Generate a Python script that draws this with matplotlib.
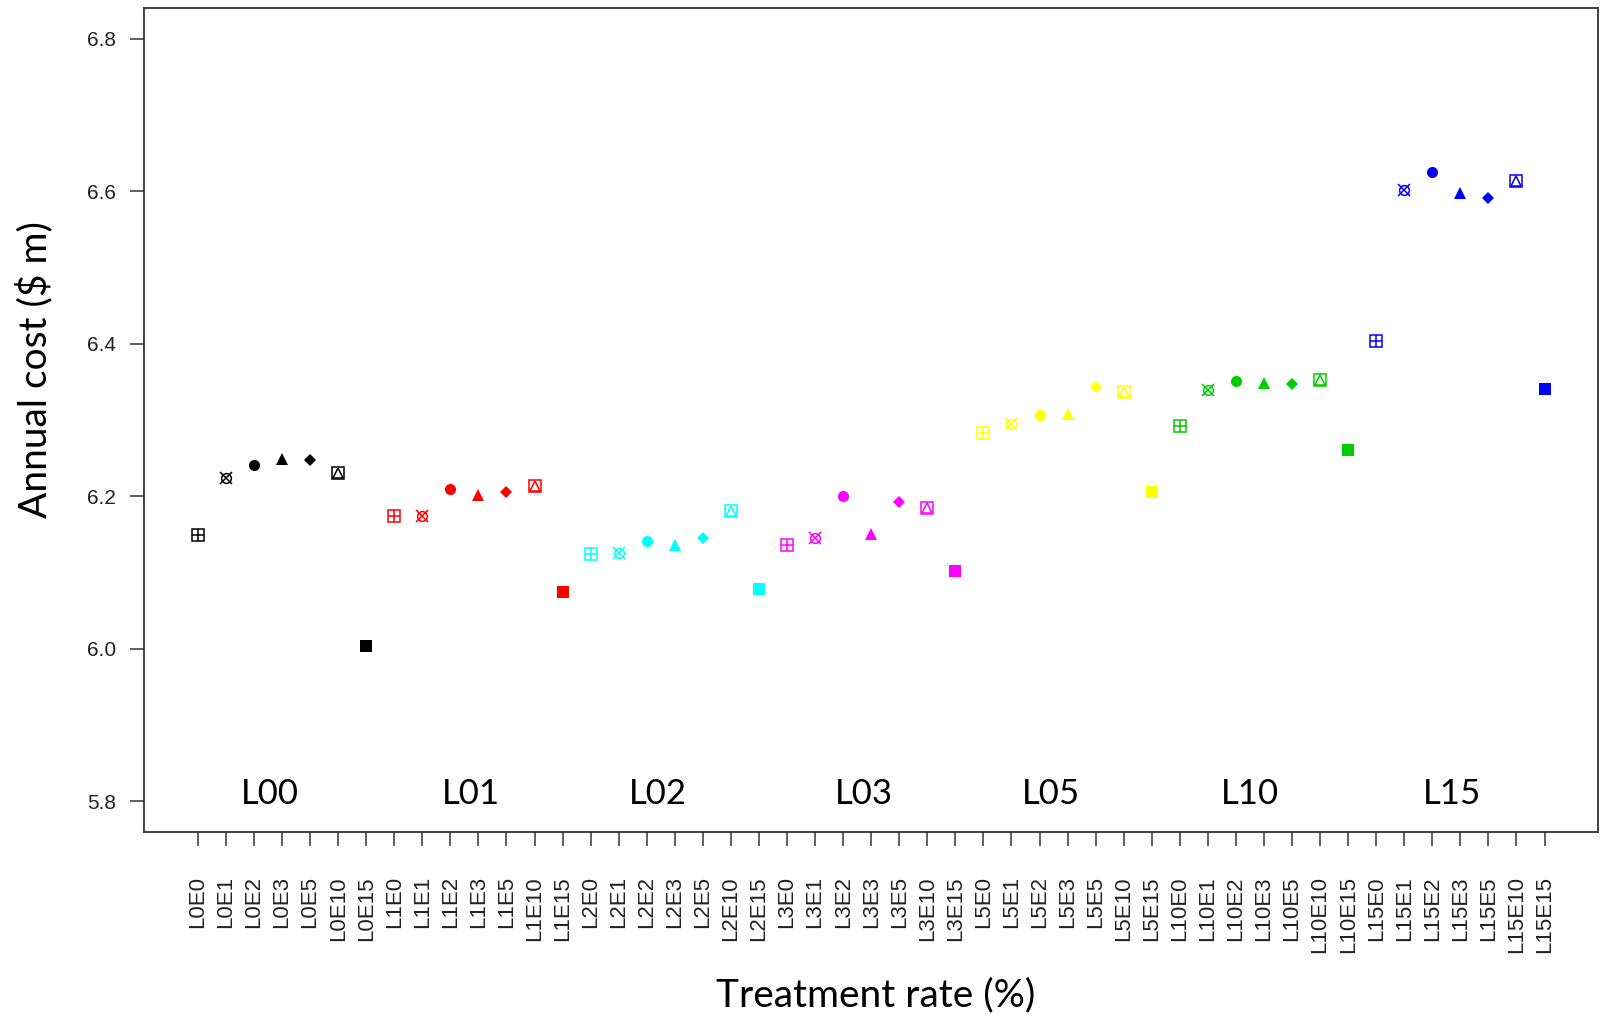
import matplotlib
matplotlib.use("Agg")
import matplotlib.pyplot as plt

# scenario groups (L) and treatment levels (E)
groups = ["L0", "L1", "L2", "L3", "L5", "L10", "L15"]
group_names = ["L00", "L01", "L02", "L03", "L05", "L10", "L15"]
levels = ["E0", "E1", "E2", "E3", "E5", "E10", "E15"]
group_colors = ["black", "red", "cyan", "magenta", "yellow", "#00CD00", "blue"]

# annual cost ($ m), one list per group, ordered by levels
cost_L0 = [6.149, 6.224, 6.241, 6.249, 6.247, 6.230, 6.004]
cost_L1 = [6.174, 6.174, 6.210, 6.201, 6.205, 6.214, 6.075]
cost_L2 = [6.124, 6.125, 6.141, 6.136, 6.145, 6.181, 6.078]
cost_L3 = [6.136, 6.145, 6.200, 6.150, 6.192, 6.184, 6.102]
cost_L5 = [6.283, 6.295, 6.307, 6.308, 6.343, 6.336, 6.206]
cost_L10 = [6.292, 6.339, 6.351, 6.348, 6.347, 6.352, 6.261]
cost_L15 = [6.404, 6.602, 6.625, 6.597, 6.591, 6.614, 6.340]
costs = [cost_L0, cost_L1, cost_L2, cost_L3, cost_L5, cost_L10, cost_L15]

# group label positions (in index units along x)
group_label_x = [3.58, 10.75, 17.4, 24.75, 31.4, 38.5, 45.7]

fig = plt.figure(figsize=(16, 10.23), dpi=100)
ax = fig.add_axes([0.09, 0.187, 0.909, 0.805])

LW = 1.1


def draw_marker(x, y, level, c):
    if level == "E0":  # square with plus
        ax.plot(x, y, marker="s", ms=9, mfc="none", mec=c, mew=LW)
        ax.plot(x, y, marker="+", ms=9, mec=c, mew=LW)
    elif level == "E1":  # circle with x
        ax.plot(x, y, marker="o", ms=7, mfc="none", mec=c, mew=LW)
        ax.plot(x, y, marker="x", ms=8.5, mec=c, mew=LW)
    elif level == "E2":
        ax.plot(x, y, marker="o", ms=8, mfc=c, mec=c, mew=0)
    elif level == "E3":
        ax.plot(x, y, marker="^", ms=9, mfc=c, mec=c, mew=0)
    elif level == "E5":
        ax.plot(x, y, marker="D", ms=6, mfc=c, mec=c, mew=0)
    elif level == "E10":  # square with triangle
        ax.plot(x, y, marker="s", ms=9, mfc="none", mec=c, mew=LW)
        ax.plot(x, y, marker="^", ms=7, mfc="none", mec=c, mew=LW)
    else:  # E15 filled square
        ax.plot(x, y, marker="s", ms=8, mfc=c, mec=c, mew=0)


tick_labels = []
i = 1
for g, vals, col in zip(groups, costs, group_colors):
    for lev, v in zip(levels, vals):
        draw_marker(i, v, lev, col)
        tick_labels.append(g + lev)
        i += 1

n = len(tick_labels)
ax.set_xlim(1 - 0.04 * (n - 1), n + 0.04 * (n - 1))
ax.set_ylim(5.76, 6.84)

ax.set_xticks(range(1, n + 1))
ax.set_xticklabels(tick_labels, rotation=90, fontsize=16,
                   family="Liberation Sans", color="#222222")
ax.set_yticks([5.8, 6.0, 6.2, 6.4, 6.6, 6.8])
ax.set_yticklabels(["5.8", "6.0", "6.2", "6.4", "6.6", "6.8"], fontsize=15,
                   family="Liberation Sans", color="#222222")
ax.tick_params(axis="x", length=10, width=1.2, color="#444444", pad=22)
ax.tick_params(axis="y", length=10, width=1.2, color="#444444", pad=10)
for s in ax.spines.values():
    s.set_linewidth(1.3)
    s.set_color("#333333")

for name, gx in zip(group_names, group_label_x):
    ax.text(gx, 5.81, name, ha="center", va="center", fontsize=25,
            family="Lato")

fig.text(0.0215, 0.639, "Annual cost ($ m)", rotation=90, ha="center",
         va="center", fontsize=28, family="Lato")
fig.text(0.547, 0.027, "Treatment rate (%)", ha="center", va="center",
         fontsize=28, family="Lato")

fig.savefig("out.png", dpi=100)
